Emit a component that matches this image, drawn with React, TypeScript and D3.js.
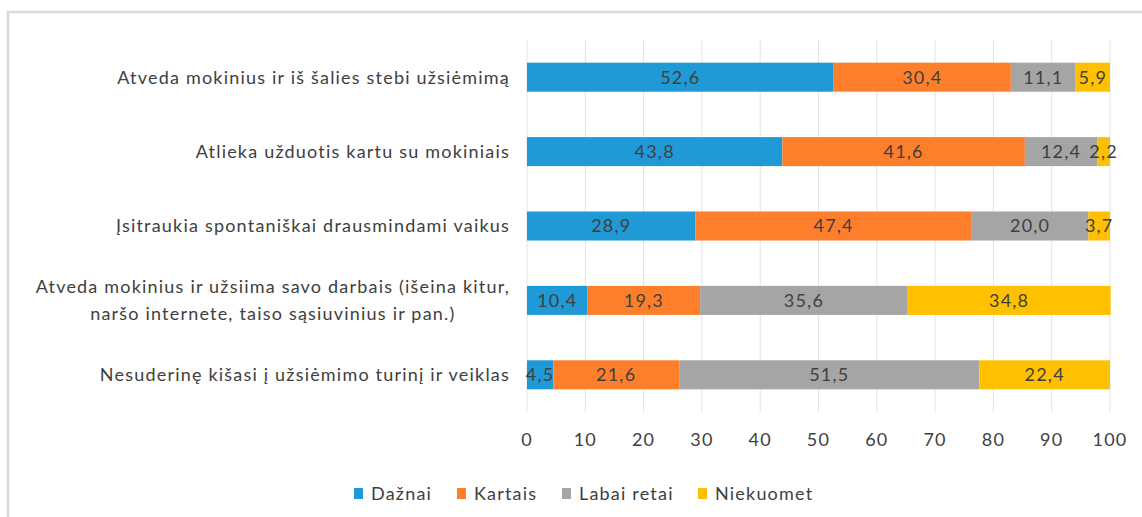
import React, { useLayoutEffect, useRef, useState } from "react";
import * as d3 from "d3";

const categories: string[][] = [
  ["Atveda mokinius ir iš šalies stebi užsiėmimą"],
  ["Atlieka užduotis kartu su mokiniais"],
  ["Įsitraukia spontaniškai drausmindami vaikus"],
  ["Atveda mokinius ir užsiima savo darbais (išeina kitur,", "naršo internete, taiso sąsiuvinius ir pan.)"],
  ["Nesuderinę kišasi į užsiėmimo turinį ir veiklas"],
];
const seriesNames = ["Dažnai", "Kartais", "Labai retai", "Niekuomet"];
const dazniai = [52.6, 43.8, 28.9, 10.4, 4.5];
const kartais = [30.4, 41.6, 47.4, 19.3, 21.6];
const labaiRetai = [11.1, 12.4, 20.0, 35.6, 51.5];
const niekuomet = [5.9, 2.2, 3.7, 34.8, 22.4];
const xTicks = [0, 10, 20, 30, 40, 50, 60, 70, 80, 90, 100];
const colors = ["#1f9ad6", "#fd7f2c", "#a5a5a5", "#ffc000"];

const W = 1142;
const H = 517;
const font = "Lato, 'Open Sans', sans-serif";
const FS = 18;
const LS = 1.2;

export default function App() {
  const series = [dazniai, kartais, labaiRetai, niekuomet];
  const x = d3.scaleLinear().domain([0, 100]).range([527, 1110]);
  const y = d3
    .scaleBand<number>()
    .domain(categories.map((_, i) => i))
    .range([40, 412])
    .paddingInner(0.61)
    .paddingOuter(0.305);
  const bw = y.bandwidth();
  const fmt = (v: number) => v.toFixed(1).replace(".", ",");
  const labelRight = 510;

  const mlRef = useRef<SVGGElement>(null);
  const [mlCenter, setMlCenter] = useState<number>(labelRight - 235);
  useLayoutEffect(() => {
    if (!mlRef.current) return;
    const texts = Array.from(mlRef.current.querySelectorAll("text")) as SVGTextElement[];
    const maxW = d3.max(texts, (t) => t.getComputedTextLength()) || 0;
    setMlCenter(labelRight - maxW / 2);
  }, []);

  const legendX = [354, 457, 562, 698];

  return (
    <svg
      width={W}
      height={H}
      style={{ position: "absolute", left: 0, top: 0, background: "#fff" }}
      fontFamily={font}
    >
      <rect x={8} y={12} width={W} height={H} fill="#fff" stroke="#d9d9d9" strokeWidth={2.5} />
      {xTicks.map((t) => (
        <line key={t} x1={x(t)} x2={x(t)} y1={40} y2={412} stroke="#e3e3e3" strokeWidth={1} />
      ))}
      {categories.map((_, i) => {
        let acc = 0;
        return (
          <g key={i}>
            {series.map((s, j) => {
              const v = s[i];
              const x0 = x(acc);
              acc += v;
              const x1 = x(acc);
              return (
                <g key={j}>
                  <rect x={x0} y={y(i)!} width={x1 - x0} height={bw} fill={colors[j]} />
                  <text
                    x={(x0 + x1) / 2}
                    y={y(i)! + bw / 2}
                    dy="0.36em"
                    textAnchor="middle"
                    fontSize={FS}
                    letterSpacing={LS}
                    fill="#404040"
                  >
                    {fmt(v)}
                  </text>
                </g>
              );
            })}
          </g>
        );
      })}
      {categories.map((lines, i) => {
        const cy = y(i)! + bw / 2;
        const lh = 27;
        if (lines.length === 1) {
          return (
            <text
              key={i}
              x={labelRight}
              y={cy}
              dy="0.36em"
              textAnchor="end"
              fontSize={FS}
              letterSpacing={LS}
              fill="#404040"
            >
              {lines[0]}
            </text>
          );
        }
        return (
          <g key={i} ref={mlRef}>
            {lines.map((l, k) => (
              <text
                key={k}
                x={mlCenter}
                y={cy + (k - (lines.length - 1) / 2) * lh}
                dy="0.36em"
                textAnchor="middle"
                fontSize={FS}
                letterSpacing={LS}
                fill="#404040"
              >
                {l}
              </text>
            ))}
          </g>
        );
      })}
      {xTicks.map((t) => (
        <text
          key={t}
          x={x(t)}
          y={440}
          dy="0.36em"
          textAnchor="middle"
          fontSize={FS}
          letterSpacing={LS}
          fill="#404040"
        >
          {t}
        </text>
      ))}
      {seriesNames.map((n, j) => (
        <g key={n}>
          <rect x={legendX[j]} y={488} width={9} height={11} fill={colors[j]} />
          <text x={legendX[j] + 17} y={493.5} dy="0.36em" fontSize={FS} letterSpacing={LS} fill="#404040">
            {n}
          </text>
        </g>
      ))}
    </svg>
  );
}
